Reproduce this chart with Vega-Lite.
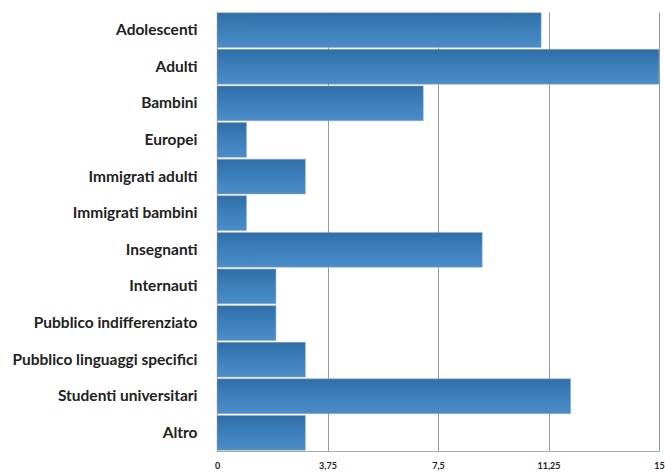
{
  "$schema": "https://vega.github.io/schema/vega-lite/v6.json",
  "autosize": "none",
  "width": 442,
  "height": 439,
  "padding": {"left": 217, "top": 12, "right": 6, "bottom": 23},
  "background": "white",
  "data": {"values": [
    {"categoria": "Adolescenti", "valore": 11},
    {"categoria": "Adulti", "valore": 15},
    {"categoria": "Bambini", "valore": 7},
    {"categoria": "Europei", "valore": 1},
    {"categoria": "Immigrati adulti", "valore": 3},
    {"categoria": "Immigrati bambini", "valore": 1},
    {"categoria": "Insegnanti", "valore": 9},
    {"categoria": "Internauti", "valore": 2},
    {"categoria": "Pubblico indifferenziato", "valore": 2},
    {"categoria": "Pubblico linguaggi specifici", "valore": 3},
    {"categoria": "Studenti universitari", "valore": 12},
    {"categoria": "Altro", "valore": 3}
  ]},
  "mark": {
    "type": "bar",
    "color": {"gradient": "linear", "x1": 0, "y1": 0, "x2": 0, "y2": 1,
      "stops": [{"offset": 0, "color": "#2f6ea8"}, {"offset": 0.45, "color": "#3c7eba"}, {"offset": 1, "color": "#4a8dc8"}]},
    "stroke": "#a0aab4",
    "strokeWidth": 0.5
  },
  "encoding": {
    "y": {
      "field": "categoria", "type": "nominal", "sort": null, "title": null,
      "scale": {"paddingInner": 0.05, "paddingOuter": 0.02},
      "axis": {"ticks": false, "labelPadding": 20, "labelFont": "Lato", "labelFontWeight": "bold", "labelFontSize": 15.5, "labelColor": "#222", "domainColor": "#aaa", "labelLimit": 220}
    },
    "x": {
      "field": "valore", "type": "quantitative", "title": null,
      "scale": {"domain": [0, 15], "nice": false},
      "axis": {"values": [0, 3.75, 7.5, 11.25, 15], "labelExpr": "replace(format(datum.value, '~g'), '.', ',')", "ticks": false, "grid": true, "gridColor": "#999", "gridWidth": 1, "domainColor": "#aaa", "labelFont": "Lato", "labelFontWeight": "bold", "labelFontSize": 9, "labelColor": "#222", "labelPadding": 10, "labelFlush": false}
    }
  },
  "config": {"view": {"stroke": null}}
}
